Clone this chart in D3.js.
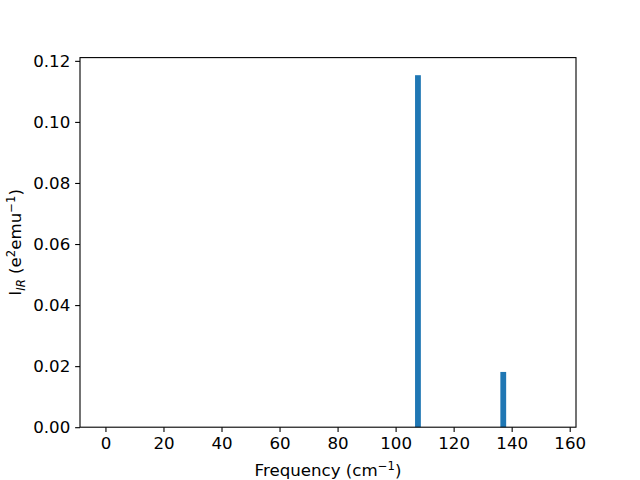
<!DOCTYPE html>
<html>
<head>
<meta charset="utf-8">
<script src="https://cdn.jsdelivr.net/npm/d3@7"></script>
<style>
html, body { margin: 0; padding: 0; background: #fff; }
svg { display: block; }
text { font-family: "DejaVu Sans", sans-serif; fill: #000; }
</style>
</head>
<body>
<svg id="chart" width="640" height="480"></svg>
<script>
// Data
const frequencies = [0, 107.7, 137.1, 153.4];
const intensities = [0, 0.1153, 0.0181, 0];
const barWidth = 2.0;
const xTicks = [0, 20, 40, 60, 80, 100, 120, 140, 160];
const yTicks = [0.00, 0.02, 0.04, 0.06, 0.08, 0.10, 0.12];

const W = 640, H = 480;
const m = { left: 80, right: 64, top: 57.6, bottom: 52.8 };
const svg = d3.select("#chart");

const xMin = d3.min(frequencies) - barWidth / 2;
const xMax = d3.max(frequencies) + barWidth / 2;
const xPad = (xMax - xMin) * 0.05;
const yMax = d3.max(intensities) * 1.05;

const x = d3.scaleLinear().domain([xMin - xPad, xMax + xPad]).range([m.left, W - m.right]);
const y = d3.scaleLinear().domain([0, yMax]).range([H - m.bottom, m.top]);

const data = frequencies.map((f, i) => ({ f, v: intensities[i] }));

svg.append("g").selectAll("rect").data(data.filter(d => d.v > 0)).join("rect")
  .attr("x", d => x(d.f - barWidth / 2))
  .attr("width", d => x(d.f + barWidth / 2) - x(d.f - barWidth / 2))
  .attr("y", d => y(d.v))
  .attr("height", d => y(0) - y(d.v))
  .attr("fill", "#1f77b4");

const tickLen = 4.86, tickPad = 4.86, fs = 16.67;

const xAxis = svg.append("g").attr("transform", `translate(0,${H - m.bottom})`)
  .call(d3.axisBottom(x).tickValues(xTicks).tickFormat(d3.format("d")).tickSizeOuter(0).tickSize(tickLen).tickPadding(tickPad));
const yAxis = svg.append("g").attr("transform", `translate(${m.left},0)`)
  .call(d3.axisLeft(y).tickValues(yTicks).tickFormat(d3.format(".2f")).tickSizeOuter(0).tickSize(tickLen).tickPadding(tickPad));

[xAxis, yAxis].forEach(a => {
  a.select(".domain").remove();
  a.selectAll(".tick line").attr("stroke", "#000").attr("stroke-width", 1.1);
  a.selectAll(".tick text").attr("font-family", "DejaVu Sans").attr("font-size", fs).attr("fill", "#000");
});

// frame
svg.append("rect")
  .attr("x", m.left).attr("y", m.top)
  .attr("width", W - m.left - m.right).attr("height", H - m.top - m.bottom)
  .attr("fill", "none").attr("stroke", "#000").attr("stroke-width", 1.1);

// x label
const xl = svg.append("text")
  .attr("x", (m.left + W - m.right) / 2).attr("y", 476)
  .attr("text-anchor", "middle").attr("font-size", fs);
xl.append("tspan").text("Frequency (cm");
xl.append("tspan").attr("dy", -6).attr("font-size", fs * 0.7).text("\u22121");
xl.append("tspan").attr("dy", 6).text(")");

// y label
const yl = svg.append("text")
  .attr("transform", `translate(21,${(m.top + H - m.bottom) / 2}) rotate(-90)`)
  .attr("text-anchor", "middle").attr("font-size", fs);
yl.append("tspan").text("I");
yl.append("tspan").attr("dy", 4).attr("font-size", fs * 0.7).attr("font-style", "italic").text("IR");
yl.append("tspan").attr("dy", -4).text(" (e");
yl.append("tspan").attr("dy", -6).attr("font-size", fs * 0.7).text("2");
yl.append("tspan").attr("dy", 6).text("emu");
yl.append("tspan").attr("dy", -6).attr("font-size", fs * 0.7).text("\u22121");
yl.append("tspan").attr("dy", 6).text(")");
</script>
</body>
</html>
